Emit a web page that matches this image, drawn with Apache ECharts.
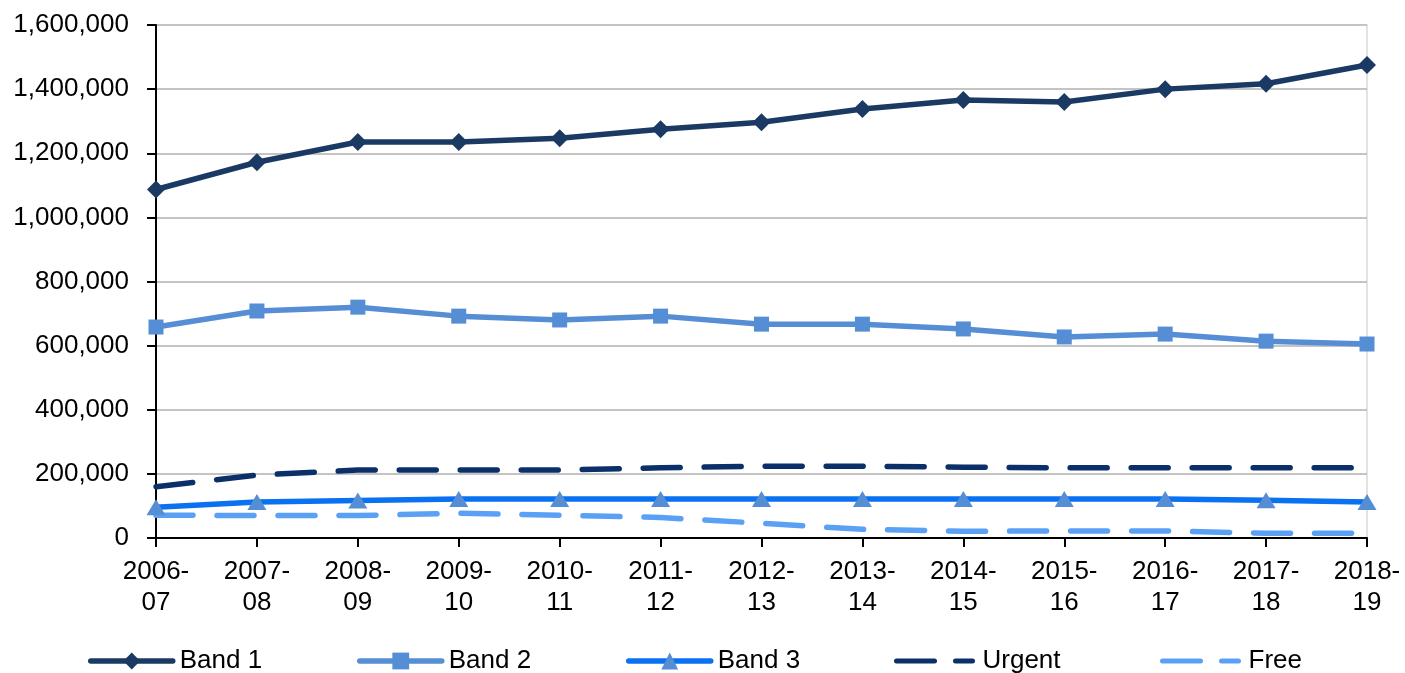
<!DOCTYPE html>
<html>
<head>
<meta charset="utf-8">
<script src="https://cdn.jsdelivr.net/npm/echarts@6/dist/echarts.min.js"></script>
<style>
  html, body { margin: 0; padding: 0; background: #ffffff; }
  #chart { width: 1405px; height: 673px; }
</style>
</head>
<body>
<div id="chart"></div>
<script>
// Financial years shown along the x axis
const years = ['2006-\n07', '2007-\n08', '2008-\n09', '2009-\n10', '2010-\n11', '2011-\n12',
               '2012-\n13', '2013-\n14', '2014-\n15', '2015-\n16', '2016-\n17', '2017-\n18', '2018-\n19'];

// Courses of treatment per band
const band1  = [1087000, 1172000, 1235000, 1235000, 1247000, 1275000, 1297000, 1338000, 1366000, 1360000, 1400000, 1417000, 1475000];
const band2  = [658000, 708000, 720000, 692000, 680000, 692000, 667000, 667000, 652000, 627000, 636000, 614000, 605000];
const band3  = [96000, 112000, 117000, 122000, 122000, 122000, 122000, 122000, 122000, 122000, 122000, 118000, 112000];
const urgent = [160000, 196000, 212000, 212000, 212000, 219000, 224000, 224000, 221000, 219000, 219000, 219000, 219000];
const free   = [71000, 70000, 70000, 77000, 71000, 64000, 46000, 27000, 21000, 22000, 22000, 15000, 15000];

// Y axis ticks
const yMin = 0, yMax = 1600000, yStep = 200000;

const FONT = '"Liberation Sans", Arial, sans-serif';
const LW = 5.5;
const dash = [37, 24];

const C = {
  band1: '#1b3a63',
  band2: '#558ed5',
  band3: '#0a72f0',
  band3Mark: '#558ed5',
  urgent: '#0b2f68',
  free: '#5aa1f6'
};

const chart = echarts.init(document.getElementById('chart'), null, { renderer: 'canvas' });

function lineSeries(name, data, color, extra) {
  return Object.assign({
    name: name,
    type: 'line',
    data: data,
    symbol: 'none',
    animation: false,
    lineStyle: { color: color, width: LW, cap: 'round', join: 'round' },
    itemStyle: { color: color },
    emphasis: { disabled: true }
  }, extra || {});
}

const series = [
  lineSeries('Free', free, C.free, { lineStyle: { color: C.free, width: LW, type: dash, cap: 'round' } }),
  lineSeries('Urgent', urgent, C.urgent, { lineStyle: { color: C.urgent, width: LW, type: dash, cap: 'round' } }),
  lineSeries('Band 3', band3, C.band3, { symbol: 'triangle', symbolSize: [19, 16], itemStyle: { color: C.band3Mark } }),
  lineSeries('Band 2', band2, C.band2, { symbol: 'rect', symbolSize: 15 }),
  lineSeries('Band 1', band1, C.band1, { symbol: 'diamond', symbolSize: 18 })
];

// Legend: solid bands show line + marker, dashed series show a dash pair
const dashIcon = 'path://M2,0H40A2,2 0 0 1 40,5H2A2,2 0 0 1 2,0Z M61,0H78A2,2 0 0 1 78,5H61A2,2 0 0 1 61,0Z';
const legendTop = 648;
function legendItem(name, left, isDash, color) {
  return {
    data: [isDash ? { name: name, icon: dashIcon, itemStyle: { color: color } }
                  : { name: name, lineStyle: { width: LW } }],
    left: left,
    top: legendTop,
    padding: 0,
    itemWidth: 82,
    itemHeight: isDash ? 5 : 21,
    itemGap: 0,
    selectedMode: false,
    textStyle: { fontFamily: FONT, fontSize: 26, color: '#000000', padding: [0, 0, 0, 2] }
  };
}

const option = {
  backgroundColor: '#ffffff',
  animation: false,
  textStyle: { fontFamily: FONT },
  grid: {
    left: 156, right: 38, top: 25, bottom: 135,
    show: true, borderColor: '#d9d9d9', borderWidth: 1.5
  },
  legend: [
    legendItem('Band 1', 88, false),
    legendItem('Band 2', 357, false),
    legendItem('Band 3', 626, false),
    legendItem('Urgent', 894, true, C.urgent),
    legendItem('Free', 1160, true, C.free)
  ],
  xAxis: {
    type: 'category',
    data: years,
    boundaryGap: false,
    axisLine: { lineStyle: { color: '#000000', width: 2 } },
    axisTick: { show: true, length: 9, lineStyle: { color: '#000000', width: 2 } },
    axisLabel: { color: '#000000', fontFamily: FONT, fontSize: 26, lineHeight: 31, margin: 18, interval: 0 },
    splitLine: { show: false }
  },
  yAxis: {
    type: 'value',
    min: yMin, max: yMax, interval: yStep,
    axisLine: { show: true, lineStyle: { color: '#000000', width: 2 } },
    axisTick: { show: true, length: 9, lineStyle: { color: '#000000', width: 2 } },
    axisLabel: {
      color: '#000000', fontFamily: FONT, fontSize: 26, margin: 27,
      formatter: v => v.toLocaleString('en-US')
    },
    splitLine: { lineStyle: { color: '#c4c4c4', width: 1.8 } }
  },
  series: series
};

chart.setOption(option);
</script>
</body>
</html>
